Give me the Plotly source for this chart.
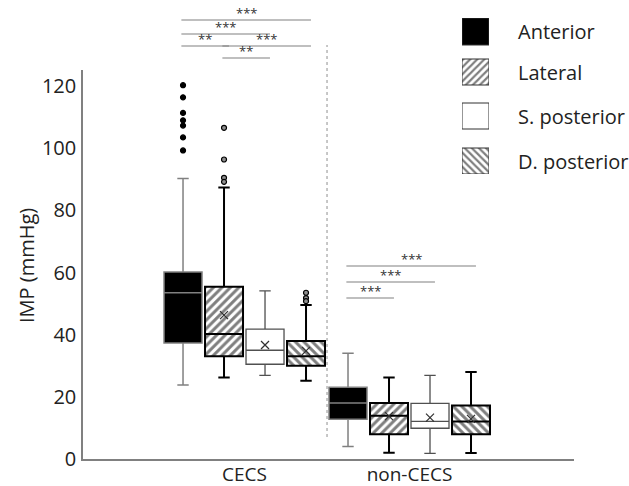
import plotly.graph_objects as go

# ---------------- data ----------------
groups = ["CECS", "non-CECS"]
sites = ["Anterior", "Lateral", "S. posterior", "D. posterior"]

q1 = {"Anterior": [37.3, 12.8], "Lateral": [33.1, 8.0],
      "S. posterior": [30.5, 9.9], "D. posterior": [30.0, 8.0]}
median = {"Anterior": [53.5, 18.0], "Lateral": [40.2, 13.9],
          "S. posterior": [35.0, 12.1], "D. posterior": [33.1, 12.1]}
q3 = {"Anterior": [60.2, 23.1], "Lateral": [55.4, 18.0],
      "S. posterior": [41.8, 17.9], "D. posterior": [38.0, 17.2]}
lower = {"Anterior": [23.8, 4.0], "Lateral": [26.2, 2.0],
         "S. posterior": [26.9, 1.8], "D. posterior": [25.2, 1.9]}
upper = {"Anterior": [90.3, 34.0], "Lateral": [87.4, 26.2],
         "S. posterior": [54.1, 26.9], "D. posterior": [49.6, 28.0]}
means = {"Anterior": [None, None], "Lateral": [46.3, 13.8],
         "S. posterior": [36.7, 13.3], "D. posterior": [34.8, 12.9]}
outliers_cecs = {"Anterior": [120.3, 116.4, 111.4, 109.0, 107.3, 103.5, 99.3],
                 "Lateral": [106.6, 96.4, 90.5, 89.2],
                 "S. posterior": [],
                 "D. posterior": [53.5, 51.8, 50.8]}

# significance brackets: (group index, site i, site j, label, level)
brackets = [(0, 0, 3, "***", 0), (0, 0, 2, "***", 1), (0, 0, 1, "**", 2),
            (0, 1, 3, "***", 2), (0, 1, 2, "**", 3),
            (1, 0, 3, "***", 0), (1, 0, 2, "***", 1), (1, 0, 1, "***", 2)]
y_ticks = [0, 20, 40, 60, 80, 100, 120]

# ---------------- styles / layout geometry ----------------
W, H = 629, 486
style = {
    "Anterior": dict(fill="black", line="#808080", lw=1.5, pattern=None, bg="black"),
    "Lateral": dict(fill="rgba(0,0,0,0)", line="black", lw=2, pattern="/", bg="white"),
    "S. posterior": dict(fill="white", line="#505050", lw=1.3, pattern=None, bg="white"),
    "D. posterior": dict(fill="rgba(0,0,0,0)", line="black", lw=2, pattern="\\", bg="white"),
}
step = 0.2485
offsets = [-1.5 * step, -0.5 * step, 0.5 * step, 1.5 * step]
bw = 0.2303

fig = go.Figure()
for k, s in enumerate(sites):
    st = style[s]
    xs = [g + offsets[k] for g in range(len(groups))]
    if st["pattern"]:
        fig.add_trace(go.Bar(
            x=xs, base=q1[s], y=[b - a for a, b in zip(q1[s], q3[s])], width=bw,
            marker=dict(color="white", line=dict(width=0),
                        pattern=dict(shape=st["pattern"], fgcolor="black",
                                     bgcolor="white", size=6, solidity=0.5)),
            showlegend=False, hoverinfo="skip"))
    fig.add_trace(go.Box(
        x=xs, q1=q1[s], median=median[s], q3=q3[s],
        lowerfence=lower[s], upperfence=upper[s], width=bw,
        fillcolor=st["fill"], line=dict(color=st["line"], width=st["lw"]),
        whiskerwidth=0.3, boxpoints=False, name=s, showlegend=False))
    if outliers_cecs[s]:
        fig.add_trace(go.Scatter(
            x=[xs[0]] * len(outliers_cecs[s]), y=outliers_cecs[s], mode="markers",
            marker=dict(size=5, color="black" if s == "Anterior" else "#909090",
                        line=dict(color="black", width=1.2)),
            showlegend=False, cliponaxis=False))
    mx = [x for x, m in zip(xs, means[s]) if m is not None]
    my = [m for m in means[s] if m is not None]
    if my:
        fig.add_trace(go.Scatter(
            x=mx, y=my, mode="markers",
            marker=dict(symbol="x-thin", size=8, line=dict(color="#303030", width=1.2)),
            showlegend=False))

# legend (drawn on auxiliary axes)
leg_rows = [(441, 468), (401, 427), (357, 383), (312, 338)]
for s, (b0, b1) in zip(sites, leg_rows):
    st = style[s]
    mk = dict(color=st["bg"], line=dict(color="#303030", width=1))
    if st["pattern"]:
        mk["pattern"] = dict(shape=st["pattern"], fgcolor="black", bgcolor="white",
                             size=5, solidity=0.45)
    fig.add_trace(go.Bar(x=[0.5], base=[b0], y=[b1 - b0], width=[1], marker=mk,
                         xaxis="x2", yaxis="y2", showlegend=False, hoverinfo="skip"))
    fig.add_annotation(text=s, xref="paper", yref="paper", x=516 / W,
                       y=(b0 + b1) / 2 / H, xanchor="left", yanchor="middle",
                       showarrow=False, font=dict(size=20, color="#222222"))

# significance brackets
lvl_px = {0: [20, 266], 1: [34, 282], 2: [46, 298], 3: [58, 0]}
for g, i, j, lab, lv in brackets:
    ypx = lvl_px[lv][g]
    x0 = g + offsets[i] - 0.01
    x1 = g + offsets[j] + 0.03
    yp = (H - ypx) / H
    fig.add_shape(type="line", xref="x", yref="paper", x0=x0, x1=x1, y0=yp, y1=yp,
                  line=dict(color="#808080", width=1.2))
    fig.add_annotation(text=lab, xref="x", yref="paper", x=(x0 + x1) / 2,
                       y=yp, yanchor="bottom", showarrow=False, yshift=-4,
                       font=dict(size=13, color="#333333"))

# dotted separator
fig.add_shape(type="line", xref="x", yref="paper", x0=0.5, x1=0.5,
              y0=(H - 437) / H, y1=(H - 45) / H,
              line=dict(color="#909090", width=1, dash="dot"))

fig.add_annotation(text="IMP (mmHg)", xref="paper", yref="paper", x=26 / W,
                   y=(H - 266) / H, textangle=-90, showarrow=False,
                   xanchor="center", yanchor="middle",
                   font=dict(size=20, color="#222222"))

fig.update_layout(
    width=W, height=H, margin=dict(l=0, r=0, t=0, b=0),
    paper_bgcolor="white", plot_bgcolor="white", barmode="overlay",
    font=dict(family="Open Sans", color="#222222"),
    xaxis=dict(domain=[83 / W, 574 / W], range=[-0.979, 1.997], tickvals=[0, 1],
               ticktext=groups, showgrid=False, zeroline=False, showline=True,
               linecolor="#808080", linewidth=1.5, ticks="", automargin=False,
               tickfont=dict(size=19), ticklabelstandoff=-3),
    yaxis=dict(domain=[(H - 459) / H, (H - 70) / H], range=[0, 125.2],
               tickvals=y_ticks, showgrid=False, zeroline=False, showline=True,
               linecolor="#808080", linewidth=1.5, ticks="", automargin=False,
               tickfont=dict(size=20), ticklabelstandoff=1),
    xaxis2=dict(domain=[462 / W, 489 / W], range=[0, 1], visible=False,
                anchor="y2", fixedrange=True),
    yaxis2=dict(domain=[(H - 174) / H, (H - 18) / H], range=[312, 468],
                visible=False, anchor="x2", fixedrange=True),
)

fig.write_html("out.html", config={"displayModeBar": False},
               post_script="document.body.style.margin='0px';document.body.style.overflow='hidden';")
